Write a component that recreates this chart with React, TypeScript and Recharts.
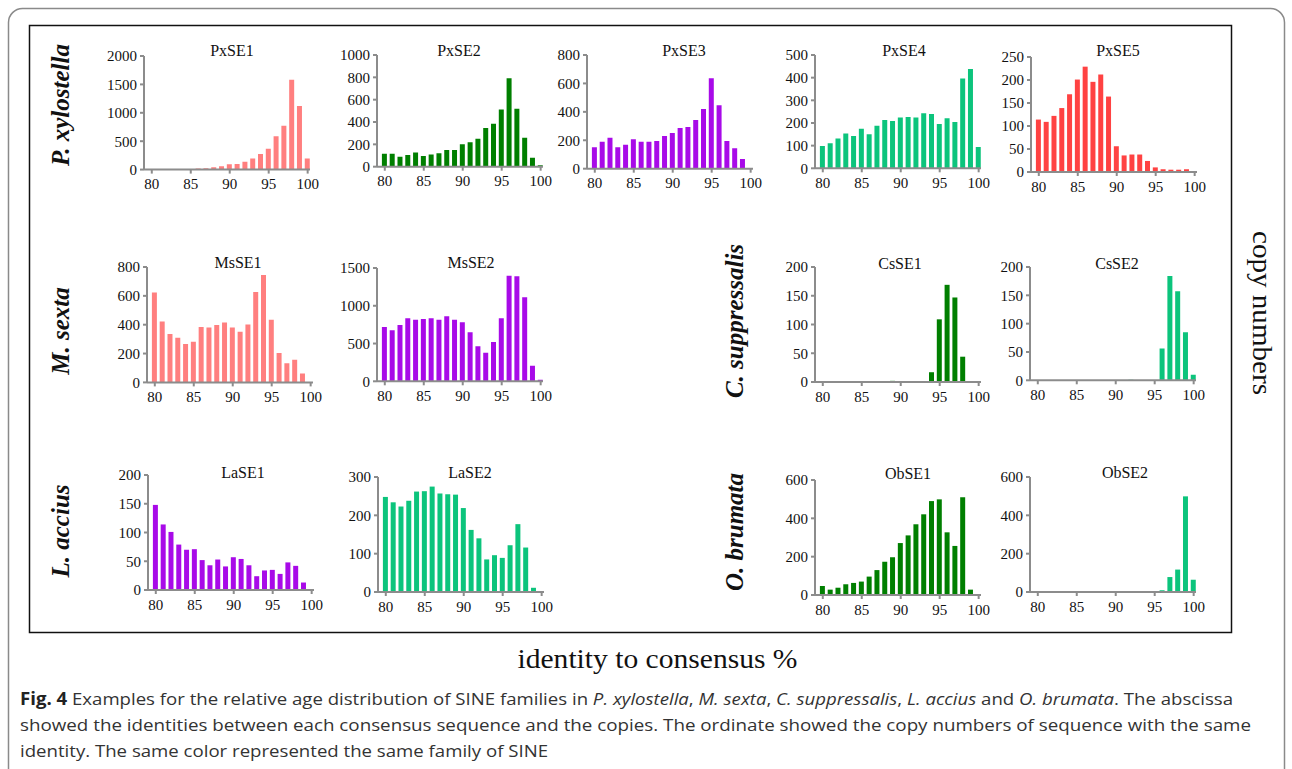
import React from 'react';
import { BarChart, Bar, XAxis, YAxis } from 'recharts';

// identity to consensus (%) categories
const identity = [80, 81, 82, 83, 84, 85, 86, 87, 88, 89, 90, 91, 92, 93, 94, 95, 96, 97, 98, 99, 100];
const xTicks = [80, 85, 90, 95, 100];

// copy numbers per SINE family
const pxse1 = [2, 3, 4, 5, 8, 12, 20, 25, 40, 60, 95, 100, 140, 195, 275, 365, 585, 770, 1580, 1120, 195];
const pxse2 = [116, 116, 90, 104, 128, 95, 110, 120, 150, 150, 200, 218, 250, 346, 385, 513, 792, 519, 260, 80, 12];
const pxse3 = [150, 190, 218, 150, 169, 207, 190, 190, 195, 230, 251, 286, 293, 343, 420, 636, 446, 195, 143, 68, 0];
const pxse4 = [98, 110, 131, 154, 143, 175, 150, 188, 213, 209, 224, 226, 224, 243, 240, 196, 221, 204, 396, 438, 94];
const pxse5 = [114, 109, 122, 139, 169, 201, 229, 196, 212, 164, 56, 36, 38, 38, 24, 10, 6, 5, 5, 6, 0];
const msse1 = [624, 423, 335, 310, 266, 282, 384, 381, 398, 416, 381, 351, 402, 627, 745, 435, 203, 132, 157, 62, 0];
const msse2 = [719, 675, 745, 834, 816, 825, 834, 816, 860, 816, 781, 648, 463, 379, 520, 834, 1398, 1390, 1112, 207, 22];
const csse1 = [0, 0, 0, 0, 0, 0, 1, 0, 0, 2, 1, 0, 0, 0, 17, 109, 169, 147, 44, 1, 0];
const csse2 = [0, 0, 0, 0, 0, 0, 0, 0, 0, 0, 0, 0, 1, 0, 0, 0, 56, 184, 157, 85, 10];
const lase1 = [148, 114, 101, 79, 70, 71, 52, 43, 53, 41, 57, 54, 43, 24, 34, 35, 28, 48, 42, 13, 0];
const lase2 = [248, 234, 223, 238, 262, 263, 275, 257, 255, 254, 219, 162, 140, 85, 96, 89, 122, 177, 116, 11, 0];
const obse1 = [47, 28, 38, 56, 63, 70, 96, 130, 174, 197, 271, 311, 369, 421, 490, 499, 327, 256, 510, 28, 0];
const obse2 = [0, 0, 0, 0, 0, 0, 0, 0, 0, 0, 0, 0, 0, 0, 0, 0, 9, 78, 117, 499, 64];

// y-axis tick labels
const ticks2000 = [0, 500, 1000, 1500, 2000];
const ticks1000 = [0, 200, 400, 600, 800, 1000];
const ticks800 = [0, 200, 400, 600, 800];
const ticks500 = [0, 100, 200, 300, 400, 500];
const ticks250 = [0, 50, 100, 150, 200, 250];
const ticks1500 = [0, 500, 1000, 1500];
const ticks200 = [0, 50, 100, 150, 200];
const ticks300 = [0, 100, 200, 300];
const ticks600 = [0, 200, 400, 600];

const SALMON = '#ff7f7f';
const GREEN = '#007f00';
const PURPLE = '#a80ae8';
const MINT = '#0cc47c';
const RED = '#ff4242';

const panels = [
  { name: 'PxSE1', values: pxse1, ticks: ticks2000, color: SALMON, x: 144, top: 55.7, bottom: 169.3, tx: 232, ty: 50 },
  { name: 'PxSE2', values: pxse2, ticks: ticks1000, color: GREEN, x: 376.7, top: 55, bottom: 166.7, tx: 459, ty: 50 },
  { name: 'PxSE3', values: pxse3, ticks: ticks800, color: PURPLE, x: 587.3, top: 55, bottom: 168.7, tx: 684, ty: 50 },
  { name: 'PxSE4', values: pxse4, ticks: ticks500, color: MINT, x: 815, top: 55, bottom: 168.3, tx: 904, ty: 50 },
  { name: 'PxSE5', values: pxse5, ticks: ticks250, color: RED, x: 1030.7, top: 56.7, bottom: 171.7, tx: 1118, ty: 50 },
  { name: 'MsSE1', values: msse1, ticks: ticks800, color: SALMON, x: 146.7, top: 267.3, bottom: 382.7, tx: 238, ty: 262 },
  { name: 'MsSE2', values: msse2, ticks: ticks1500, color: PURPLE, x: 376.7, top: 267.7, bottom: 381, tx: 471, ty: 262 },
  { name: 'CsSE1', values: csse1, ticks: ticks200, color: GREEN, x: 815, top: 267.3, bottom: 382.3, tx: 900, ty: 263 },
  { name: 'CsSE2', values: csse2, ticks: ticks200, color: MINT, x: 1030, top: 266.7, bottom: 380, tx: 1117, ty: 263 },
  { name: 'LaSE1', values: lase1, ticks: ticks200, color: PURPLE, x: 148.3, top: 475, bottom: 590, tx: 243, ty: 472 },
  { name: 'LaSE2', values: lase2, ticks: ticks300, color: MINT, x: 378.3, top: 476.7, bottom: 591.7, tx: 470, ty: 472 },
  { name: 'ObSE1', values: obse1, ticks: ticks600, color: GREEN, x: 815, top: 480, bottom: 595, tx: 908, ty: 473 },
  { name: 'ObSE2', values: obse2, ticks: ticks600, color: MINT, x: 1030, top: 476.7, bottom: 591.7, tx: 1125, ty: 472 },
];

const SERIF = "'Liberation Serif', 'Times New Roman', serif";
const AXIS = '#8c8c8c';

function Panel(p: any) {
  const ML = 60;
  const MT = 10;
  const MR = 22;
  const PW = 166;
  const plotH = p.bottom - p.top;
  const W = ML + PW + MR;
  const H = MT + plotH + 32;
  const data = identity.map((id, i) => ({ id, v: p.values[i] }));
  const max = p.ticks[p.ticks.length - 1];
  return (
    <div style={{ position: 'absolute', left: p.x - ML, top: p.top - MT, width: W, height: H }}>
      <BarChart width={W} height={H} data={data} margin={{ top: MT, right: MR, left: 0, bottom: 0 }} style={{ overflow: 'visible' }}>
        <XAxis
          dataKey="id"
          type="number"
          domain={[79, 100.3]}
          ticks={xTicks}
          allowDataOverflow
          interval={0}
          height={32}
          tickSize={4}
          tickMargin={5}
          stroke={AXIS}
          strokeWidth={2}
          tick={{ fill: '#111', fontSize: 15, fontFamily: SERIF }}
        />
        <YAxis
          width={ML}
          domain={[0, max]}
          ticks={p.ticks}
          interval={0}
          allowDataOverflow
          tickSize={4}
          tickMargin={3}
          stroke={AXIS}
          strokeWidth={2}
          tick={{ fill: '#111', fontSize: 15, fontFamily: SERIF }}
        />
        <Bar dataKey="v" fill={p.color} barSize={5} isAnimationActive={false} />
      </BarChart>
    </div>
  );
}

const CAP_FONT = "'Open Sans', 'Noto Sans', sans-serif";

export default function App() {
  return (
    <div style={{ position: 'absolute', left: 0, top: 0, width: 1292, height: 769, background: '#fff', overflow: 'hidden' }}>
      <svg width={1292} height={769} style={{ position: 'absolute', left: 0, top: 0 }}>
        <rect x={8.5} y={8.5} width={1276} height={820} rx={14} fill="none" stroke="#8a8a8a" strokeWidth={1.5} />
        <rect x={29.5} y={25.5} width={1202} height={607} fill="none" stroke="#111" strokeWidth={1.5} />
        {panels.map((p) => (
          <text key={p.name} x={p.tx} y={p.ty + 5.5} textAnchor="middle" fontFamily={SERIF} fontSize={16} fill="#111">
            {p.name}
          </text>
        ))}
        {[
          { t: 'P. xylostella', x: 60, y: 105 },
          { t: 'M. sexta', x: 60, y: 331 },
          { t: 'L. accius', x: 60, y: 531 },
          { t: 'C. suppressalis', x: 734, y: 321 },
          { t: 'O. brumata', x: 734, y: 532 },
        ].map((s) => (
          <text
            key={s.t}
            x={s.x}
            y={s.y}
            transform={`rotate(-90 ${s.x} ${s.y})`}
            textAnchor="middle"
            dominantBaseline="central"
            fontFamily={SERIF}
            fontWeight="bold"
            fontStyle="italic"
            fontSize={25}
            fill="#111"
          >
            {s.t}
          </text>
        ))}
        <text
          x={1262}
          y={313}
          transform="rotate(90 1262 313)"
          textAnchor="middle"
          dominantBaseline="central"
          fontFamily={SERIF}
          fontSize={28}
          textLength={164}
          lengthAdjust="spacingAndGlyphs"
          fill="#111"
        >
          copy numbers
        </text>
        <text x={657.5} y={668} textAnchor="middle" fontFamily={SERIF} fontSize={28} textLength={280} lengthAdjust="spacingAndGlyphs" fill="#111">
          identity to consensus %
        </text>
        <text x={20} y={705} fontFamily={CAP_FONT} fontSize={17} fill="#333" textLength={1213} lengthAdjust="spacingAndGlyphs">
          <tspan fontWeight="bold" fill="#222">Fig. 4</tspan>
          <tspan> Examples for the relative age distribution of SINE families in </tspan>
          <tspan fontStyle="italic">P. xylostella</tspan>
          <tspan>, </tspan>
          <tspan fontStyle="italic">M. sexta</tspan>
          <tspan>, </tspan>
          <tspan fontStyle="italic">C. suppressalis</tspan>
          <tspan>, </tspan>
          <tspan fontStyle="italic">L. accius</tspan>
          <tspan> and </tspan>
          <tspan fontStyle="italic">O. brumata</tspan>
          <tspan>. The abscissa</tspan>
        </text>
        <text x={20} y={731} fontFamily={CAP_FONT} fontSize={17} fill="#333" textLength={1231} lengthAdjust="spacingAndGlyphs">
          showed the identities between each consensus sequence and the copies. The ordinate showed the copy numbers of sequence with the same
        </text>
        <text x={20} y={757} fontFamily={CAP_FONT} fontSize={17} fill="#333" textLength={528} lengthAdjust="spacingAndGlyphs">
          identity. The same color represented the same family of SINE
        </text>
      </svg>
      {panels.map((p) => (
        <Panel key={p.name} {...p} />
      ))}
    </div>
  );
}
